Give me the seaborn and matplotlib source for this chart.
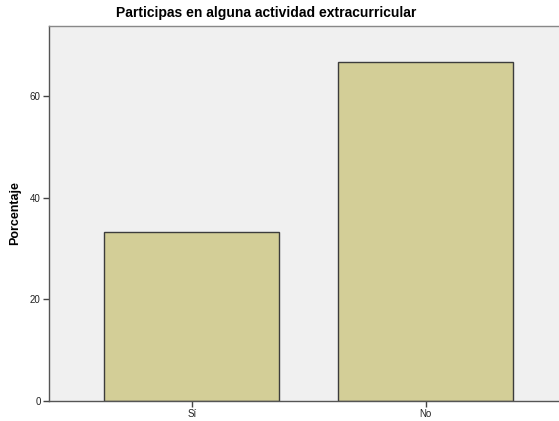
import matplotlib
matplotlib.use("Agg")
import matplotlib.pyplot as plt
import seaborn as sns
import pandas as pd

# Chart data
categories = ["Sí", "No"]
percentages = [33.33, 66.67]
y_ticks = [0, 20, 40, 60]

data = pd.DataFrame({"Respuesta": categories, "Porcentaje": percentages})

sns.set_style("white")
plt.rcParams["font.family"] = ["Liberation Sans", "DejaVu Sans"]
plt.rcParams["text.color"] = "black"
plt.rcParams["axes.labelcolor"] = "black"

fig = plt.figure(figsize=(5.59, 4.21), dpi=100)
ax = fig.add_axes([49 / 559, 20 / 421, 1 - 49 / 559, 375 / 421])
ax.set_facecolor("#F0F0F0")

sns.barplot(x="Respuesta", y="Porcentaje", data=data, order=categories,
            color="#D3CE97", edgecolor="#3C3C3C", linewidth=1.0,
            width=0.75, saturation=1, ax=ax)

ax.set_xlim(-0.61, 1.57)
ax.set_ylim(0, 73.8)
ax.set_yticks(y_ticks)
ax.tick_params(axis="both", labelsize=7, length=4, width=1, color="#444444",
               labelcolor="#222222", direction="out", pad=2,
               left=True, bottom=True)
ax.set_xlabel("")
ax.set_ylabel("Porcentaje", fontsize=9, fontweight="bold", labelpad=6)

fig.text(266 / 559, 1 - 13 / 421, "Participas en alguna actividad extracurricular",
         ha="center", va="center", fontsize=10, fontweight="bold", color="black")

for side in ["left", "bottom"]:
    ax.spines[side].set_color("#555555")
    ax.spines[side].set_linewidth(1.0)
ax.spines["top"].set_color("#888888")
ax.spines["top"].set_linewidth(1.0)
ax.spines["right"].set_visible(False)

fig.savefig("out.png", dpi=100, facecolor="white")
plt.close(fig)
